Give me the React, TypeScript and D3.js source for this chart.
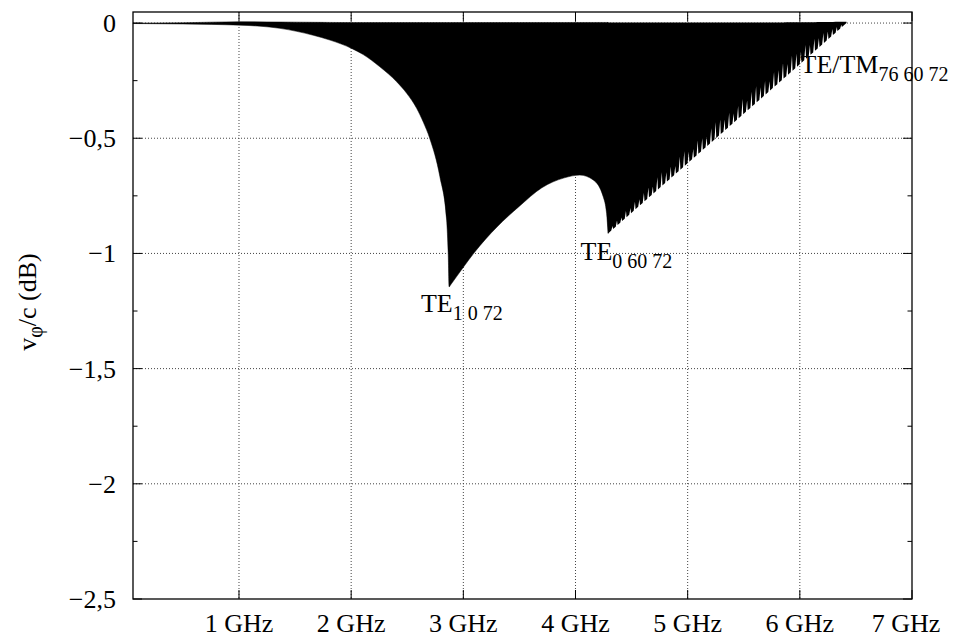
import React, { useEffect } from "react";
import * as d3 from "d3";

// ---- data ----
const freqTicks = [1, 2, 3, 4, 5, 6, 7];
const dbTicks = [0, -0.5, -1, -1.5, -2, -2.5];
const dbMinorTicks = [-0.25, -0.75, -1.25, -1.75, -2.25];

// lower envelope of v_phi/c (dB) vs frequency (GHz), smooth part up to the TE_0 60 72 cusp
const envFreq = [0.055, 0.5, 1.009, 1.365, 1.662, 1.811, 2.004, 2.108, 2.256, 2.406, 2.495, 2.584, 2.643, 2.7, 2.791, 2.851, 2.865, 2.874, 2.886, 3.0, 3.1, 3.3, 3.5, 3.7, 3.9, 4.039, 4.158, 4.247, 4.277, 4.291];
const envLow = [-0.002, -0.004, -0.009, -0.023, -0.053, -0.074, -0.11, -0.137, -0.19, -0.255, -0.305, -0.37, -0.43, -0.5, -0.667, -0.855, -1.0, -1.145, -1.137, -1.06, -0.995, -0.885, -0.795, -0.715, -0.672, -0.66, -0.681, -0.754, -0.826, -0.913];

// straight rising edge after the cusp: GHz and dB
const edgeFreq = [4.282, 4.291, 6.416];
const edgeLow = [-0.8, -0.913, 0];

// upper envelope (small ripple above 0 dB)
const upFreq = [0.055, 0.8, 1.0, 1.5, 2.0, 6.0, 6.416];
const upVal = [0, 0.002, 0.006, 0.004, 0.002, 0.003, 0.006];

// mode-resonance notches along the rising edge: GHz and depth (dB)
const notchFreq = [4.33, 4.37, 4.41, 4.45, 4.49, 4.53, 4.57, 4.61, 4.65, 4.69, 4.73, 4.77, 4.81, 4.85, 4.89, 4.93, 4.97, 5.01, 5.05, 5.09, 5.13, 5.17, 5.21, 5.25, 5.29, 5.33, 5.37, 5.41, 5.45, 5.49, 5.53, 5.57, 5.61, 5.65, 5.69, 5.73, 5.77, 5.81, 5.85, 5.89, 5.93, 5.97, 6.01, 6.05, 6.09, 6.13, 6.17, 6.21, 6.25, 6.29, 6.33, 6.37];
const notchDepth = [0.015, 0.022, 0.018, 0.03, 0.025, 0.035, 0.028, 0.038, 0.045, 0.032, 0.055, 0.06, 0.042, 0.05, 0.035, 0.058, 0.065, 0.045, 0.04, 0.06, 0.052, 0.042, 0.062, 0.07, 0.065, 0.048, 0.06, 0.04, 0.055, 0.068, 0.045, 0.065, 0.072, 0.05, 0.06, 0.042, 0.065, 0.055, 0.07, 0.048, 0.068, 0.058, 0.05, 0.062, 0.045, 0.055, 0.04, 0.045, 0.035, 0.028, 0.02, 0.012];

// annotations
const annText = ["TE", "TE", "TE/TM"];
const annSub = ["1 0 72", "0 60 72", "76 60 72"];
const annFreq = [2.622, 4.045, 6.006];
const annDb = [-1.253, -1.029, -0.216];

const W = 956;
const H = 637;
const FONT = "'Liberation Serif', 'Times New Roman', serif";

const x = d3.scaleLinear().domain([0.055, 7]).range([133, 912]);
const y = d3.scaleLinear().domain([-2.5, 0.048]).range([599, 12]);

const edgeInterp = d3.scaleLinear().domain(edgeFreq).range(edgeLow).clamp(true);
const upInterp = d3.scaleLinear().domain(upFreq).range(upVal).clamp(true);

type P = { f: number; lo: number };
const smoothPts: P[] = envFreq.map((f, i) => ({ f, lo: envLow[i] }));

const jagPts: P[] = edgeFreq.map((f, i) => ({ f, lo: edgeLow[i] }));
notchFreq.forEach((f, i) => {
  const d = notchDepth[i];
  jagPts.push({ f: f - 0.011, lo: edgeInterp(f - 0.011) });
  jagPts.push({ f: f, lo: edgeInterp(f) + d });
  jagPts.push({ f: f + 0.005, lo: edgeInterp(f + 0.005) });
});
jagPts.sort((a, b) => a.f - b.f);

const smoothArea = d3
  .area<P>()
  .x((d) => x(d.f))
  .y0((d) => y(d.lo))
  .y1((d) => y(upInterp(d.f)))
  .curve(d3.curveMonotoneX);

const jagArea = d3
  .area<P>()
  .x((d) => x(d.f))
  .y0((d) => y(d.lo))
  .y1((d) => y(upInterp(d.f)))
  .curve(d3.curveLinear);

const fmtDb = (v: number) =>
  v === 0 ? "0" : "\u2212" + String(Math.abs(v)).replace(".", ",");

export default function App() {
  useEffect(() => {
    document.body.style.margin = "0";
  }, []);
  const [x0, x1] = x.range();
  const [y0, y1] = y.range(); // y0 bottom, y1 top
  const major = 9;
  const minor = 4.5;
  return (
    <svg width={W} height={H} style={{ position: "absolute", left: 0, top: 0, background: "#fff" }} fontFamily={FONT}>
      <rect x={0} y={0} width={W} height={H} fill="#fff" />
      {/* grid */}
      <g stroke="#444" strokeWidth={1} strokeDasharray="1,2">
        {freqTicks.filter((f) => x(f) < x1 - 1).map((f) => (
          <line key={"gx" + f} x1={x(f)} x2={x(f)} y1={y1} y2={y0} />
        ))}
        {dbTicks.filter((v) => y(v) < y0 - 1).map((v) => (
          <line key={"gy" + v} x1={x0} x2={x1} y1={y(v)} y2={y(v)} />
        ))}
      </g>
      {/* data */}
      <path d={smoothArea(smoothPts) || ""} fill="#000" stroke="#000" strokeWidth={0.5} />
      <path d={jagArea(jagPts) || ""} fill="#000" />
      {/* ticks */}
      <g stroke="#000" strokeWidth={1}>
        {freqTicks.map((f) => (
          <g key={"tx" + f}>
            <line x1={x(f)} x2={x(f)} y1={y0} y2={y0 - major} />
            <line x1={x(f)} x2={x(f)} y1={y1} y2={y1 + major} />
          </g>
        ))}
        {dbTicks.map((v) => (
          <g key={"ty" + v}>
            <line x1={x0} x2={x0 + major} y1={y(v)} y2={y(v)} />
            <line x1={x1} x2={x1 - major} y1={y(v)} y2={y(v)} />
          </g>
        ))}
        {dbMinorTicks.map((v) => (
          <g key={"tm" + v}>
            <line x1={x0} x2={x0 + minor} y1={y(v)} y2={y(v)} />
            <line x1={x1} x2={x1 - minor} y1={y(v)} y2={y(v)} />
          </g>
        ))}
      </g>
      {/* border */}
      <rect x={x0} y={y1} width={x1 - x0} height={y0 - y1} fill="none" stroke="#000" strokeWidth={1.3} />
      {/* tick labels */}
      <g fontSize={26} fill="#000">
        {freqTicks.map((f) => (
          <text key={"lx" + f} x={x(f)} dx={f === 7 ? -6 : 0} y={632} textAnchor="middle">
            {f + " GHz"}
          </text>
        ))}
        {dbTicks.map((v) => (
          <text key={"ly" + v} x={116} y={y(v) + 9} textAnchor="end">
            {fmtDb(v)}
          </text>
        ))}
      </g>
      {/* y axis label */}
      <text transform="translate(36,302) rotate(-90)" textAnchor="middle" fontSize={26} fill="#000">
        v<tspan fontSize={20} dy={6}>φ</tspan>
        <tspan dy={-6}>/c (dB)</tspan>
      </text>
      {/* annotations */}
      <g fill="#000">
        {annText.map((t, i) => (
          <text key={"an" + i} x={x(annFreq[i])} y={y(annDb[i])} fontSize={26}>
            {t}
            <tspan fontSize={20} dy={8}>{annSub[i]}</tspan>
          </text>
        ))}
      </g>
    </svg>
  );
}
